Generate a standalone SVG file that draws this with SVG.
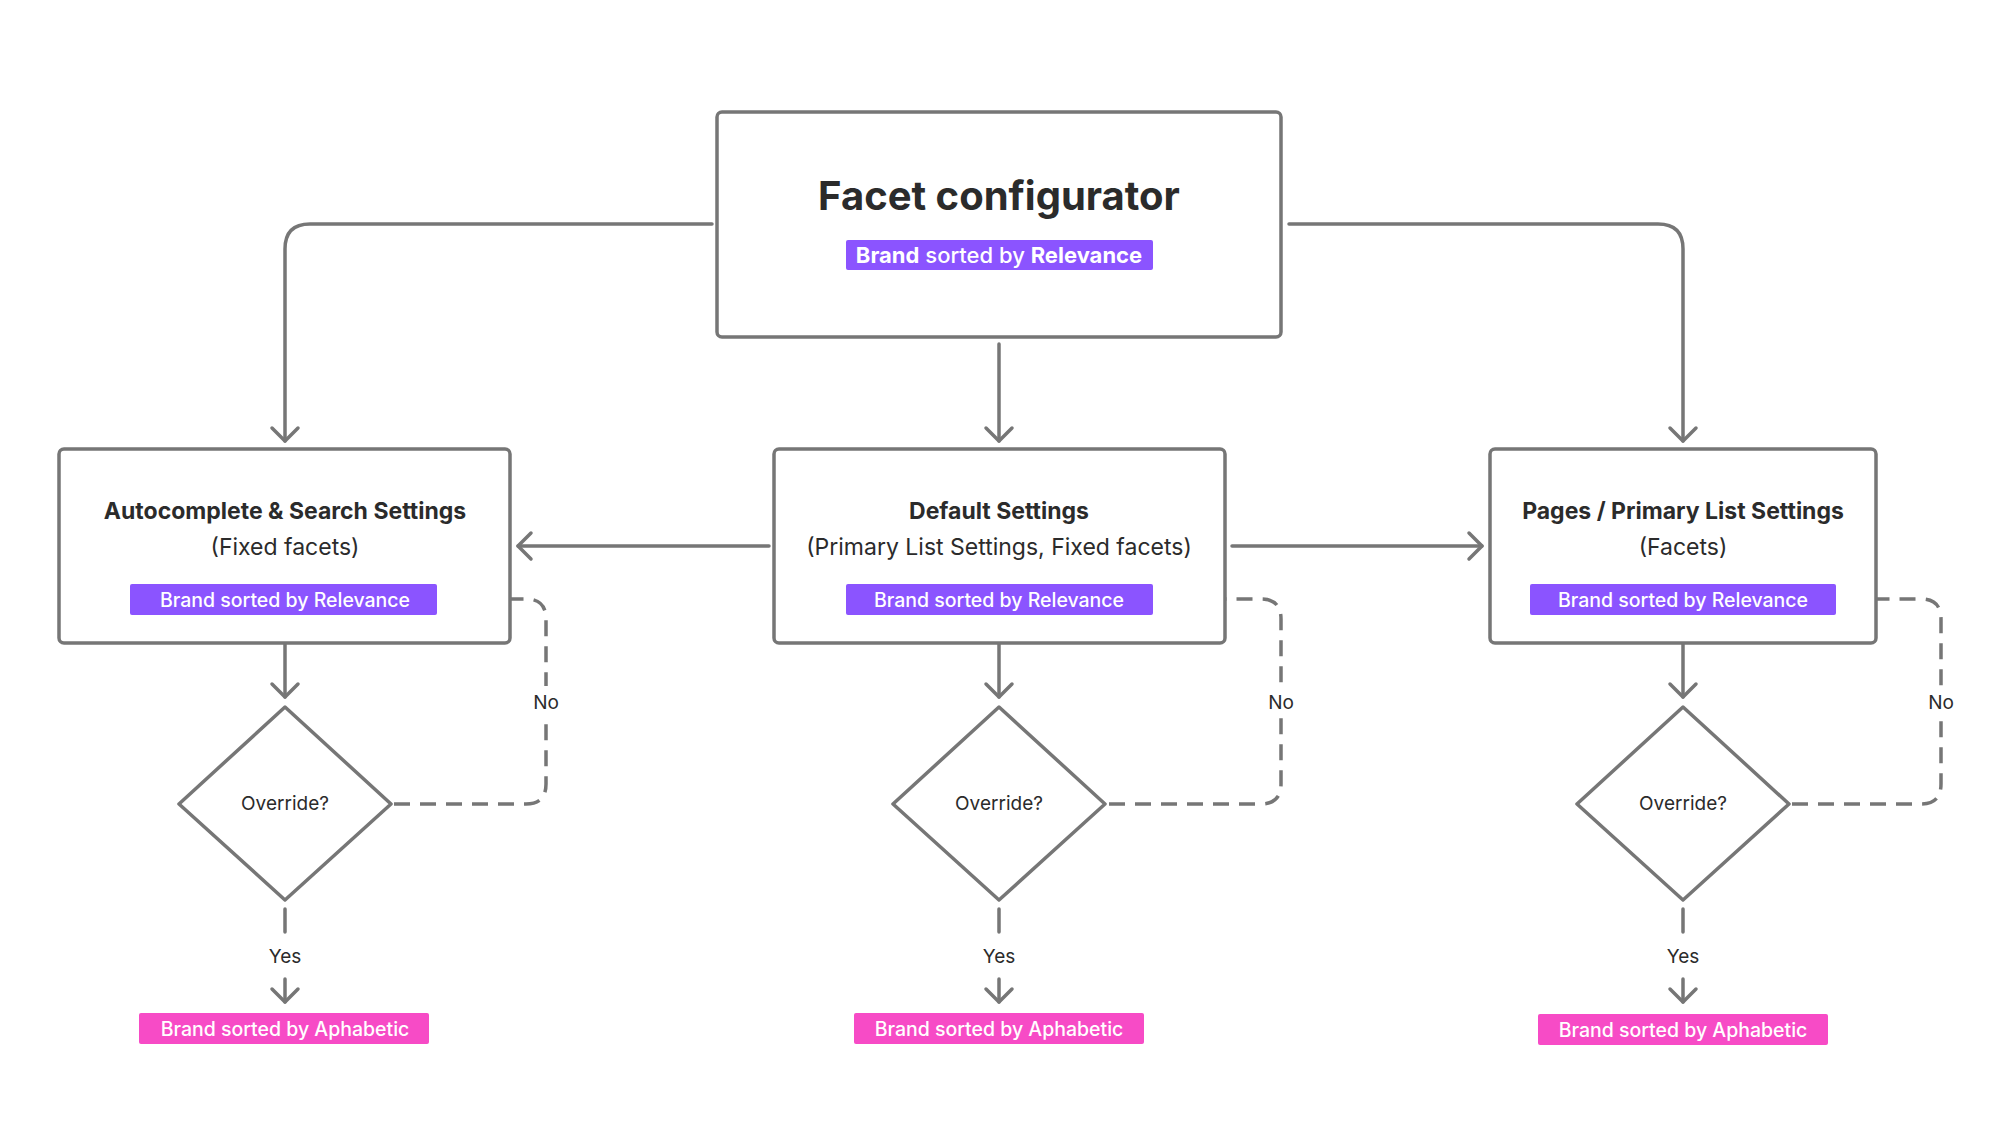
<svg xmlns="http://www.w3.org/2000/svg" width="2009" height="1129" viewBox="0 0 2009 1129">
<style>
.box{fill:#fff;stroke:#767676;stroke-width:3.5}
.ln{fill:none;stroke:#767676;stroke-width:3.5;stroke-linecap:round;stroke-linejoin:round}
.dash{stroke-dasharray:16 10;stroke-linecap:butt}
text{font-family:Inter,"Noto Sans","Liberation Sans",sans-serif;text-anchor:middle;fill:#2b2b2b}
.b{font-weight:700}
.bt{fill:#fff;font-size:19.5px;font-weight:500}
.bt .b{font-weight:700}
.h{font-size:23px}
.s{font-size:19px}
.purple{fill:#8b54ff}
.pink{fill:#f74bc6}
</style>
<defs>
<marker id="ah" viewBox="-16 -16 32 32" markerWidth="32" markerHeight="32" markerUnits="userSpaceOnUse" orient="auto" refX="0" refY="0">
<path d="M-13,-13 L0,0 L-13,13" fill="none" stroke="#767676" stroke-width="3.5" stroke-linecap="round" stroke-linejoin="round"/>
</marker>
</defs>
<g id="connectors">
<path class="ln" d="M712,224 H310 Q285,224 285,249 V441" marker-end="url(#ah)"/>
<path class="ln" d="M1289,224 H1658 Q1683,224 1683,249 V441" marker-end="url(#ah)"/>
<path class="ln" d="M999,344 V441" marker-end="url(#ah)"/>
<path class="ln" d="M769,546 H518" marker-end="url(#ah)"/>
<path class="ln" d="M1232,546 H1482" marker-end="url(#ah)"/>
<path class="ln" d="M285,625 V697" marker-end="url(#ah)"/>
<path class="ln" d="M999,625 V697" marker-end="url(#ah)"/>
<path class="ln" d="M1683,625 V697" marker-end="url(#ah)"/>
<path class="ln dash" d="M394,804 H526 Q546,804 546,784 V619 Q546,599 526,599 H446" marker-end="url(#ah)"/>
<path class="ln dash" d="M1109,804 H1261 Q1281,804 1281,784 V619 Q1281,599 1261,599 H1162" marker-end="url(#ah)"/>
<path class="ln dash" d="M1792,804 H1921 Q1941,804 1941,784 V619 Q1941,599 1921,599 H1846" marker-end="url(#ah)"/>
<rect x="526" y="686" width="40" height="32" fill="#fff"/>
<rect x="1261" y="686" width="40" height="32" fill="#fff"/>
<rect x="1921" y="686" width="40" height="32" fill="#fff"/>
<text class="s" x="546" y="709">No</text>
<text class="s" x="1281" y="709">No</text>
<text class="s" x="1941" y="709">No</text>
<path class="ln" d="M285,909 V932 M999,909 V932 M1683,909 V932"/>
<path class="ln" d="M285,979 V1002" marker-end="url(#ah)"/>
<path class="ln" d="M999,979 V1002" marker-end="url(#ah)"/>
<path class="ln" d="M1683,979 V1002" marker-end="url(#ah)"/>
<text class="s" x="285" y="963">Yes</text>
<text class="s" x="999" y="963">Yes</text>
<text class="s" x="1683" y="963">Yes</text>
</g>
<g id="facet">
<rect class="box" x="717" y="112" width="564" height="225" rx="5"/>
<text class="b" x="999" y="210" font-size="40">Facet configurator</text>
<rect class="purple" x="846" y="240" width="307" height="30" rx="2"/>
<text class="bt" x="999" y="263" font-size="22" style="font-size:22px"><tspan class="b">Brand</tspan> sorted by <tspan class="b">Relevance</tspan></text>
</g>
<g id="autocomplete">
<rect class="box" x="59" y="449" width="451" height="194" rx="5"/>
<text class="h b" x="285" y="519">Autocomplete &amp; Search Settings</text>
<text class="h" x="285" y="555">(Fixed facets)</text>
<rect class="purple" x="130" y="584" width="307" height="31" rx="2"/>
<text class="bt b" x="285" y="607">Brand sorted by Relevance</text>
</g>
<g id="default">
<rect class="box" x="774" y="449" width="451" height="194" rx="5"/>
<text class="h b" x="999" y="519">Default Settings</text>
<text class="h" x="999" y="555">(Primary List Settings, Fixed facets)</text>
<rect class="purple" x="846" y="584" width="307" height="31" rx="2"/>
<text class="bt b" x="999" y="607">Brand sorted by Relevance</text>
</g>
<g id="pages">
<rect class="box" x="1490" y="449" width="386" height="194" rx="5"/>
<text class="h b" x="1683" y="519">Pages / Primary List Settings</text>
<text class="h" x="1683" y="555">(Facets)</text>
<rect class="purple" x="1530" y="584" width="306" height="31" rx="2"/>
<text class="bt b" x="1683" y="607">Brand sorted by Relevance</text>
</g>
<g id="override1">
<path class="ln" d="M285,707 L391,804 L285,900 L179,804 Z" fill="#fff"/>
<text class="s" x="285" y="810">Override?</text>
</g>
<g id="override2">
<path class="ln" d="M999,707 L1105,804 L999,900 L893,804 Z" fill="#fff"/>
<text class="s" x="999" y="810">Override?</text>
</g>
<g id="override3">
<path class="ln" d="M1683,707 L1789,804 L1683,900 L1577,804 Z" fill="#fff"/>
<text class="s" x="1683" y="810">Override?</text>
</g>
<g id="alpha1">
<rect class="pink" x="139" y="1013" width="290" height="31" rx="2"/>
<text class="bt b" x="285" y="1036">Brand sorted by Aphabetic</text>
</g>
<g id="alpha2">
<rect class="pink" x="854" y="1013" width="290" height="31" rx="2"/>
<text class="bt b" x="999" y="1036">Brand sorted by Aphabetic</text>
</g>
<g id="alpha3">
<rect class="pink" x="1538" y="1014" width="290" height="31" rx="2"/>
<text class="bt b" x="1683" y="1037">Brand sorted by Aphabetic</text>
</g>
</svg>
